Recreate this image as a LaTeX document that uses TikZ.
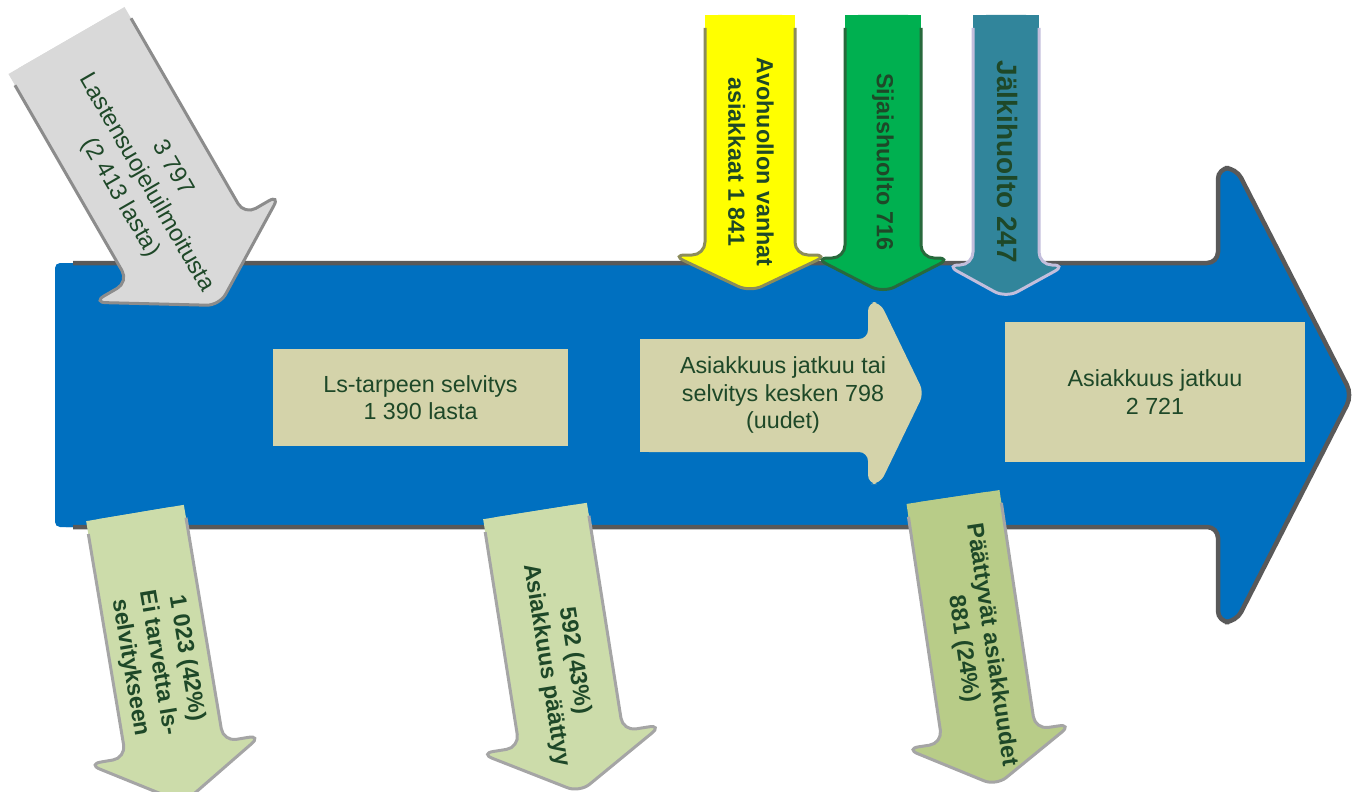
\documentclass[tikz,border=0pt]{standalone}
\usepackage{fontspec}
\setmainfont{Liberation Sans}
\definecolor{bluefill}{RGB}{0,112,192}
\definecolor{blueline}{RGB}{89,89,89}
\definecolor{tanfill}{RGB}{212,211,170}
\definecolor{txtgreen}{RGB}{30,72,40}
\definecolor{yelfill}{RGB}{255,255,0}
\definecolor{yelline}{RGB}{140,140,90}
\definecolor{grnfill}{RGB}{0,176,80}
\definecolor{grnline}{RGB}{40,105,60}
\definecolor{tealfill}{RGB}{49,133,155}
\definecolor{tealline}{RGB}{195,190,220}
\definecolor{greyfill}{RGB}{217,217,217}
\definecolor{greyline}{RGB}{140,140,140}
\definecolor{lgfill}{RGB}{204,220,170}
\definecolor{lgfillb}{RGB}{184,204,136}
\definecolor{lgline}{RGB}{165,165,165}
\newcommand{\fA}{\fontsize{23.3}{27.5}\selectfont}
\newcommand{\fB}{\fontsize{23.3}{28.5}\selectfont\bfseries}
\newcommand{\fG}{\fontsize{23.8}{30}\selectfont}
% #1,#2 top centre; #3 rotation; #4 shaft width; #5 shaft length; #6 half head width; #7 head length; #8 fill; #9 line
\newcommand{\myDownArrow}[9]{%
  \begin{scope}[shift={(#1,#2)}, rotate=#3]
    \fill[#8, rounded corners=13] (-#4/2,0) -- (#4/2,0) -- (#4/2,#5) -- (#6,#5) -- (0,#5+#7) -- (-#6,#5) -- (-#4/2,#5) -- cycle;
    \fill[#8] (-#4/2,0) rectangle (#4/2,20);
    \draw[#9, line width=3, rounded corners=13] (#4/2,13) -- (#4/2,#5) -- (#6,#5) -- (0,#5+#7) -- (-#6,#5) -- (-#4/2,#5) -- (-#4/2,13);
  \end{scope}}
\tikzset{
  lbl/.style={text=txtgreen, align=center, font=\fA, inner sep=0pt},
  lblb/.style={text=txtgreen, align=center, font=\fB, inner sep=0pt},
  box/.style={fill=tanfill, text=txtgreen, align=center, font=\fA, inner sep=0pt}
}
\begin{document}
\begin{tikzpicture}[x=1pt,y=-1pt]
\useasboundingbox (0,0) rectangle (1361,792);
\clip (0,0) rectangle (1361,792);
% big blue arrow
\fill[bluefill, rounded corners=11] (55,263) -- (1218,263) -- (1218,168) -- (1236,168) -- (1352,395) -- (1236,622) -- (1218,622) -- (1218,527) -- (55,527) -- cycle;
\fill[bluefill, rounded corners=5] (55,263) rectangle (400,527);
\draw[blueline, line width=4.5, rounded corners=11] (73,263) -- (1218,263) -- (1218,168) -- (1236,168) -- (1352,395) -- (1236,622) -- (1218,622) -- (1218,527) -- (73,527);
% inner tan arrow
\fill[tanfill, rounded corners=9] (640,339) -- (868,339) -- (868,302) -- (880,302) -- (924,393) -- (880,484) -- (868,484) -- (868,452) -- (640,452) -- cycle;
\fill[tanfill] (640,339) rectangle (800,452);
% boxes
\node[box, minimum width=295, minimum height=97] (ls) at (420.5,397.5) {Ls-tarpeen selvitys\\1 390 lasta};
\node[lbl] (ak) at (783,395) {Asiakkuus jatkuu tai\\selvitys kesken 798\\(uudet)};
\node[box, minimum width=300, minimum height=140] (aj) at (1155,392) {Asiakkuus jatkuu\\2 721};
% top arrows
\myDownArrow{750}{15}{0}{90}{240}{78}{37}{yelfill}{yelline}
\myDownArrow{883}{15}{0}{76}{243}{68}{35}{grnfill}{grnline}
\myDownArrow{1006}{15}{0}{66}{250}{60}{33}{tealfill}{tealline}
\node[lblb, rotate=-90] (yt) at (751,162) {Avohuollon vanhat\\asiakkaat 1 841};
\node[lblb, rotate=-90] (gt) at (883,162) {Sijaishuolto 716};
\node[lblb, rotate=-90, font=\fontsize{28}{32}\selectfont\bfseries] (tt) at (1007,162) {Jälkihuolto 247};
% grey incoming arrow
\myDownArrow{66.5}{40.5}{30}{134}{240}{108}{66}{greyfill}{greyline}
\node[lbl, rotate=-60, font=\fG] (gtxt) at (146,183) {3 797\\Lastensuojeluilmoitusta\\(2 413 lasta)};
% bottom arrows
\myDownArrow{135}{513}{9.5}{99}{240}{88}{54}{lgfill}{lgline}
\myDownArrow{535}{511}{9}{105}{231}{92}{54}{lgfill}{lgline}
\myDownArrow{953}{497}{8.5}{94}{242}{84}{50}{lgfillb}{lgline}
\node[lblb, rotate=-80.5] (b1) at (158,663) {1 023 (42\%)\\Ei tarvetta ls-\\selvitykseen};
\node[lblb, rotate=-81] (b2) at (560,663) {592 (43\%)\\Asiakkuus päättyy};
\node[lblb, rotate=-81.5] (b3) at (977,647) {Päättyvät asiakkuudet\\881 (24\%)};
\end{tikzpicture}
\end{document}
